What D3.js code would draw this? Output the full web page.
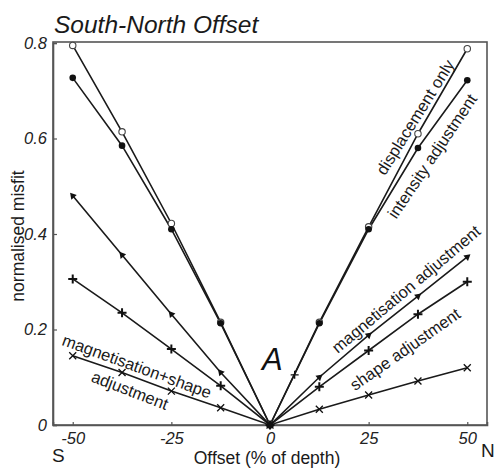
<!DOCTYPE html>
<html>
<head>
<meta charset="utf-8">
<script src="https://cdn.jsdelivr.net/npm/d3@7"></script>
<style>
  html, body { margin: 0; padding: 0; background: #fff; }
  svg { display: block; font-family: "Liberation Sans", Arial, sans-serif; }
</style>
</head>
<body>
<svg id="chart" width="496" height="468"></svg>
<script>
// Offsets (% of depth) at which the misfit was evaluated
const offsets = [-50, -37.5, -25, -12.5, 0, 12.5, 25, 37.5, 50];

// Normalised misfit for each inversion strategy
const displacementOnly        = [0.795, 0.614, 0.422, 0.215, 0, 0.215, 0.415, 0.610, 0.788];
const intensityAdjustment     = [0.727, 0.585, 0.410, 0.213, 0, 0.213, 0.410, 0.580, 0.722];
const magnetisationAdjustment = [0.480, 0.356, 0.232, 0.110, 0, 0.100, 0.188, 0.270, 0.352];
const shapeAdjustment         = [0.306, 0.235, 0.159, 0.082, 0, 0.080, 0.156, 0.232, 0.300];
const magnetisationShape      = [0.145, 0.110, 0.071, 0.036, 0, 0.033, 0.063, 0.092, 0.120];

// Single intermediate sample between 0 and 12.5
const midOffset = [6.25];
const midMisfit = [0.105];

const xTicks = [-50, -25, 0, 25, 50];
const yTicks = [0, 0.2, 0.4, 0.6, 0.8];

const svg = d3.select("#chart");
const ink = "#1a1a1a";

const x = d3.scaleLinear().domain([-55, 55]).range([53, 487]);
const y = d3.scaleLinear().domain([0, 0.8]).range([425, 43]);

// Frame
svg.append("rect")
  .attr("x", x(-55)).attr("y", 42)
  .attr("width", x(55) - x(-55)).attr("height", y(0) - 42)
  .attr("fill", "none").attr("stroke", "#555").attr("stroke-width", 1.6);

// Axes with short inward ticks
const xAxis = svg.append("g").attr("transform", `translate(0,${y(0)})`)
  .call(d3.axisBottom(x).tickValues(xTicks).tickSize(-3).tickPadding(7)
    .tickFormat(d => String(d)));
const yAxis = svg.append("g").attr("transform", `translate(${x(-55)},0)`)
  .call(d3.axisLeft(y).tickValues(yTicks).tickSize(-4).tickPadding(6)
    .tickFormat(d => d === 0 ? "0" : d3.format(".1f")(d)));
[xAxis, yAxis].forEach(g => {
  g.select(".domain").attr("stroke", "#555").attr("stroke-width", 1.6);
  g.selectAll(".tick line").attr("stroke", "#555").attr("stroke-width", 1.2);
  g.selectAll(".tick text")
    .style("font-family", "'Liberation Sans', Arial, sans-serif")
    .style("font-size", "16.5px").style("font-style", "italic").style("fill", "#222");
});

// Series lines
const line = d3.line().x(d => x(d[0])).y(d => y(d[1]));
const seriesList = [
  { values: displacementOnly, marker: "openCircle" },
  { values: intensityAdjustment, marker: "dot" },
  { values: magnetisationAdjustment, marker: "triangle" },
  { values: shapeAdjustment, marker: "plus" },
  { values: magnetisationShape, marker: "cross" }
];
seriesList.forEach(s => {
  svg.append("path")
    .datum(offsets.map((o, i) => [o, s.values[i]]))
    .attr("d", line).attr("fill", "none")
    .attr("stroke", ink).attr("stroke-width", 1.6);
});

// Markers
function drawMarker(g, type, cx, cy, angle) {
  if (type === "openCircle") {
    g.append("circle").attr("cx", cx).attr("cy", cy).attr("r", 3.2)
      .attr("fill", "#fff").attr("stroke", "#444").attr("stroke-width", 1.1);
  } else if (type === "dot") {
    g.append("circle").attr("cx", cx).attr("cy", cy).attr("r", 3.3).attr("fill", "#111");
  } else if (type === "triangle") {
    g.append("path")
      .attr("d", d3.symbol().type(d3.symbolTriangle).size(22)())
      .attr("transform", `translate(${cx},${cy}) rotate(${angle})`)
      .attr("fill", "#111");
  } else if (type === "plus") {
    const r = 4.5;
    g.append("path")
      .attr("d", `M${cx - r},${cy}H${cx + r}M${cx},${cy - r}V${cy + r}`)
      .attr("stroke", "#111").attr("stroke-width", 2);
  } else if (type === "cross") {
    const r = 3.5;
    g.append("path")
      .attr("d", `M${cx - r},${cy - r}L${cx + r},${cy + r}M${cx - r},${cy + r}L${cx + r},${cy - r}`)
      .attr("stroke", "#111").attr("stroke-width", 1.3);
  } else if (type === "thinPlus") {
    const r = 4;
    g.append("path")
      .attr("d", `M${cx - r},${cy}H${cx + r}M${cx},${cy - r}V${cy + r}`)
      .attr("stroke", "#111").attr("stroke-width", 1.3);
  }
}
const markers = svg.append("g");
// light markers first so the filled dot sits on top at the origin;
// triangles point away from the origin along their line
["openCircle", "cross", "plus", "triangle", "dot"].forEach(type => {
  seriesList.filter(s => s.marker === type).forEach(s => {
    offsets.forEach((o, i) => {
      drawMarker(markers, type, x(o), y(s.values[i]), o === 0 ? 0 : (o < 0 ? 200 : 50));
    });
  });
});
midOffset.forEach((o, i) => drawMarker(markers, "thinPlus", x(o), y(midMisfit[i]), 0));

// Curve labels
const labels = [
  { text: "displacement only",        cx: 415, cy: 117, rot: -58 },
  { text: "intensity adjustment",     cx: 432, cy: 156, rot: -56 },
  { text: "magnetisation adjustment", cx: 406, cy: 289, rot: -40 },
  { text: "shape adjustment",         cx: 405, cy: 349, rot: -35 },
  { text: "magnetisation+shape",      cx: 137, cy: 366, rot: 20 },
  { text: "adjustment",               cx: 130, cy: 390, rot: 21 }
];
svg.append("g").selectAll("text").data(labels).join("text")
  .attr("transform", d => `translate(${d.cx},${d.cy}) rotate(${d.rot})`)
  .attr("text-anchor", "middle").attr("dominant-baseline", "central")
  .attr("font-size", 16.5).attr("fill", "#1a1a1a")
  .text(d => d.text);

// Panel letter
svg.append("text").attr("x", 262).attr("y", 370)
  .attr("font-size", 31).attr("font-style", "italic").attr("fill", "#111").text("A");

// Title
svg.append("text").attr("x", 54).attr("y", 33)
  .attr("font-size", 24.5).attr("font-style", "italic").attr("fill", "#1a1a1a")
  .text("South-North Offset");

// Axis titles
svg.append("text").attr("transform", "translate(24,236) rotate(-90)")
  .attr("text-anchor", "middle").attr("font-size", 17.5).attr("fill", "#1a1a1a")
  .text("normalised misfit");
svg.append("text").attr("x", 267).attr("y", 464)
  .attr("text-anchor", "middle").attr("font-size", 17.5).attr("fill", "#1a1a1a")
  .text("Offset (% of depth)");

// Direction letters
svg.append("text").attr("x", 52).attr("y", 462)
  .attr("font-size", 19).attr("fill", "#1a1a1a").text("S");
svg.append("text").attr("x", 481).attr("y", 457)
  .attr("font-size", 19).attr("fill", "#1a1a1a").text("N");
</script>
</body>
</html>
